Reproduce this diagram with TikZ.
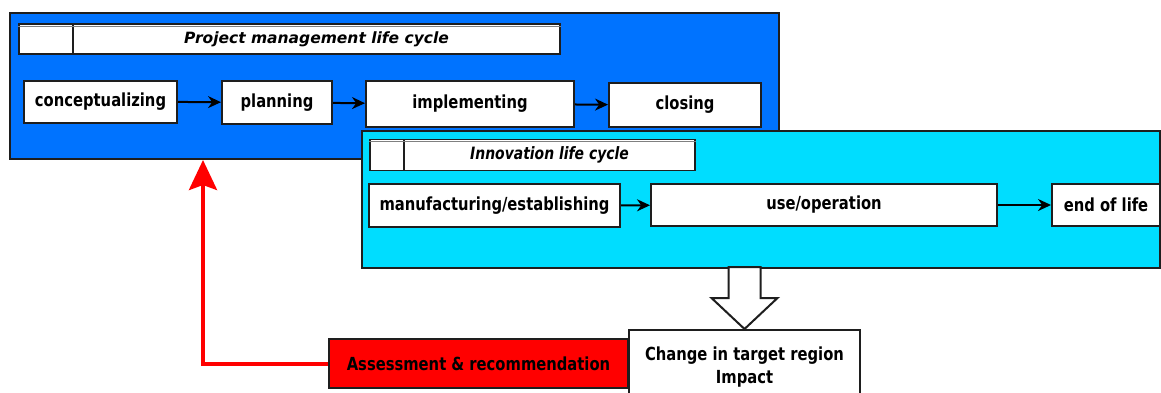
\documentclass[tikz,border=0pt]{standalone}
\usepackage{fontspec}
\setmainfont{DejaVu Sans}
\newfontfamily\boxfont[FakeStretch=0.82]{DejaVu Sans}
\usetikzlibrary{arrows.meta}
\definecolor{pmblue}{RGB}{0,115,255}
\definecolor{innocyan}{RGB}{0,221,255}
\definecolor{edgegray}{RGB}{30,30,30}

\begin{document}
\begin{tikzpicture}[x=1pt,y=-1pt,
    frame/.style={draw=edgegray,line width=2pt,inner sep=0pt},
    phase/.style={frame,fill=white,font=\boxfont\bfseries\fontsize{18}{22}\selectfont},
    headcell/.style={draw=edgegray,line width=1.6pt,fill=white,inner sep=0pt},
    headtitle/.style={headcell,font=\bfseries\itshape\fontsize{15.5}{18}\selectfont},
    flow/.style={-{Stealth[length=13pt,width=12pt]},line width=2pt,draw=black},
    hollow/.style={draw=edgegray,fill=white,line width=2pt,line join=miter},
    feedback/.style={-{Stealth[length=30pt,width=28pt,inset=5pt]},line width=4pt,draw=red}]
    \fill[white] (0,0) rectangle (1161,392);
    \useasboundingbox (0,0) rectangle (1161,392);

    % project management life cycle
    \node[frame,fill=pmblue,minimum width=769,minimum height=146] (pm) at (394.5,86) {};
    \node[headcell,minimum width=54,minimum height=30] (pmcell) at (46,39) {};
    \node[headtitle,minimum width=487,minimum height=30] (pmtitle) at (316.5,39) {Project management life cycle};
    \draw[gray,line width=1pt] ([yshift=-3pt]pmcell.north west) -- ([yshift=-3pt]pmtitle.north east);

    \node[phase,minimum width=153,minimum height=42] (concept) at (100.5,101.5) {conceptualizing};
    \node[phase,minimum width=110,minimum height=43] (planning) at (277,102.5) {planning};
    \node[phase,minimum width=208,minimum height=46] (implement) at (470,104) {implementing};
    \node[phase,minimum width=152,minimum height=44] (closing) at (685,105) {closing};
    \draw[flow] (concept) -- (planning);
    \draw[flow] (planning) -- (implement);
    \draw[flow] (implement) -- (closing);

    % innovation life cycle
    \node[frame,fill=innocyan,minimum width=798,minimum height=137] (inno) at (761,199.5) {};
    \node[headcell,minimum width=34,minimum height=31] (innocell) at (387,155) {};
    \node[headtitle,minimum width=291,minimum height=31,font=\boxfont\bfseries\itshape\fontsize{17}{20}\selectfont] (innotitle) at (549.5,155) {Innovation life cycle};
    \draw[gray,line width=1pt] ([yshift=-3pt]innocell.north west) -- ([yshift=-3pt]innotitle.north east);

    \node[phase,minimum width=251,minimum height=43] (manuf) at (494.5,205.5) {manufacturing/establishing};
    \node[phase,minimum width=346,minimum height=42] (useop) at (824,205) {use/operation};
    \node[phase,minimum width=108,minimum height=42] (eol) at (1106,205) {end of life};
    \draw[flow] (manuf) -- (useop);
    \draw[flow] (useop) -- (eol);

    % impact and feedback
    \node[phase,fill=red,minimum width=299,minimum height=49] (assess) at (478.5,363.5) {Assessment \& recommendation};
    \node[phase,align=center,minimum width=231,minimum height=74,font=\boxfont\bfseries\fontsize{18}{23}\selectfont] (change) at (744.5,367) {Change in target region\\Impact};
    \draw[hollow] (change.north) -- ++(-33,-31) -- ++(17,0) -- ++(0,-31) -- ++(32,0) -- ++(0,31) -- ++(17,0) -- cycle;
    \draw[feedback] (assess.west) -| ([xshift=194pt]pm.south west);
\end{tikzpicture}
\end{document}
